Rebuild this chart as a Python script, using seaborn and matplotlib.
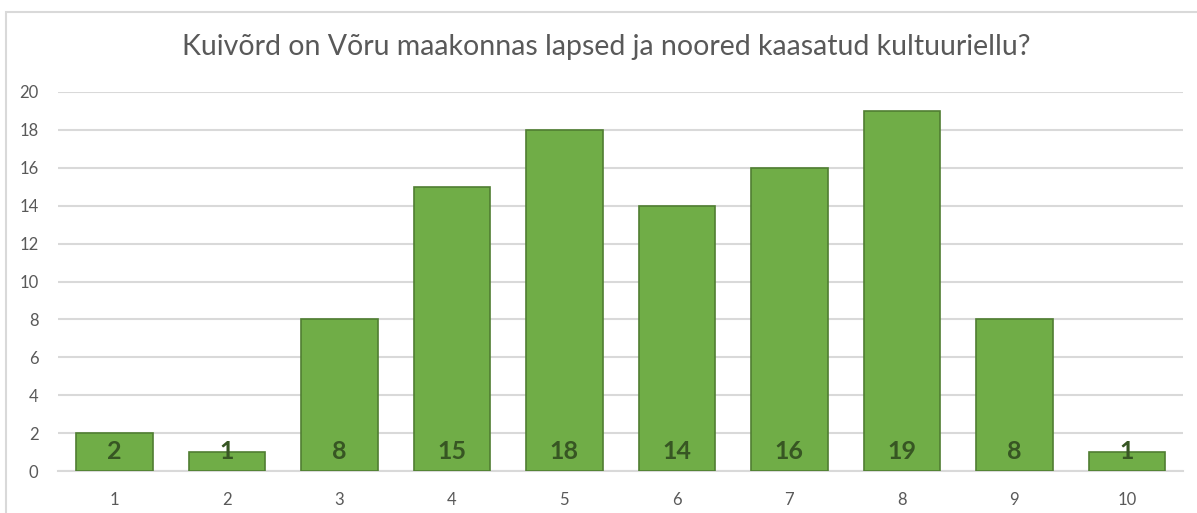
import matplotlib.pyplot as plt
import matplotlib.patches as mpatches
import pandas as pd
import seaborn as sns

# Data
categories = ['1', '2', '3', '4', '5', '6', '7', '8', '9', '10']
counts = [2, 1, 8, 15, 18, 14, 16, 19, 8, 1]
title = 'Kuivõrd on Võru maakonnas lapsed ja noored kaasatud kultuuriellu?'

df = pd.DataFrame({'hinne': categories, 'vastajaid': counts})

sns.set_style('white')
plt.rcParams['font.family'] = ['Lato', 'DejaVu Sans']

W, H = 1197, 513
fig = plt.figure(figsize=(W / 100, H / 100), dpi=100)
ax = fig.add_axes([58 / W, 1 - 471 / H, (1183 - 58) / W, (471 - 92) / H])

sns.barplot(data=df, x='hinne', y='vastajaid', order=categories, color='#70AD47',
            width=0.68, edgecolor='#507E32', linewidth=1.2, saturation=1, ax=ax, zorder=3)

# value labels near the bar base
for i, v in enumerate(counts):
    ax.annotate(str(v), (i, 0), xytext=(0, 6), textcoords='offset points',
                ha='center', va='bottom', fontsize=18, fontweight='bold', color='#375623', zorder=4)

ax.set_ylim(0, 20)
ax.set_yticks(range(0, 21, 2))
ax.yaxis.grid(True, color='#D9D9D9', linewidth=1.5, zorder=0)
ax.set_axisbelow(True)
for s in ['top', 'right', 'left']:
    ax.spines[s].set_visible(False)
ax.spines['bottom'].set_color('#D9D9D9')
ax.spines['bottom'].set_linewidth(1.5)
ax.tick_params(axis='both', length=0, labelsize=12, labelcolor='#595959')
ax.tick_params(axis='x', pad=15)
ax.tick_params(axis='y', pad=14)
ax.set_xlabel('')
ax.set_ylabel('')

fig.text(606 / W, 1 - 47 / H, title, ha='center', va='center', fontsize=20.5, color='#595959')

# chart frame (only top and left edges visible in the crop)
frame = mpatches.Rectangle((6 / W, -0.05), 1.1, 1 - 12 / H + 0.05, transform=fig.transFigure,
                           fill=False, edgecolor='#D9D9D9', linewidth=1.5)
fig.patches.append(frame)

fig.savefig('out.png', dpi=100)
